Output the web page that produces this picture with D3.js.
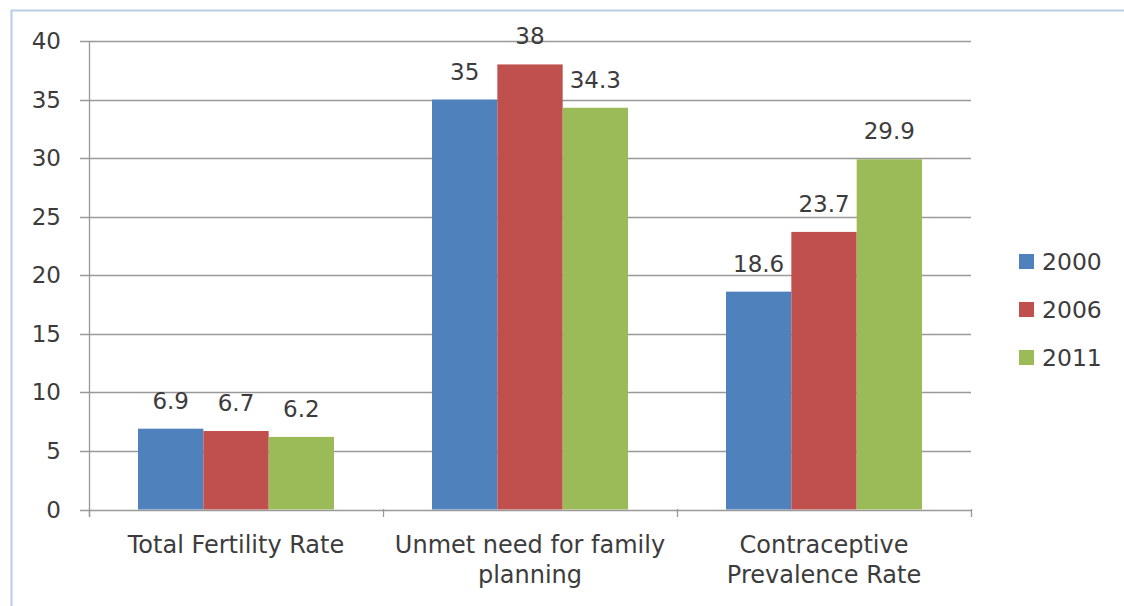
<!DOCTYPE html>
<html lang="en">
  <head>
    <meta charset="UTF-8" />
    <title>Fertility indicators</title>
    <script src="https://d3js.org/d3.v7.min.js"></script>
    <style>
      body { margin: 0; background: #fff; }
      text { font-family: "DejaVu Sans", "Liberation Sans", sans-serif; fill: #3c3c3c; }
    </style>
  </head>
  <body>
    <svg width="1124" height="606"></svg>
    <script>
      // data
      var categories = [["Total Fertility Rate"], ["Unmet need for family", "planning"], ["Contraceptive", "Prevalence Rate"]];
      var years = ["2000", "2006", "2011"];
      var values2000 = [6.9, 35, 18.6];
      var values2006 = [6.7, 38, 23.7];
      var values2011 = [6.2, 34.3, 29.9];
      var yTicks = [0, 5, 10, 15, 20, 25, 30, 35, 40];
      var colors = ["#4f81bd", "#c0504d", "#9bbb59"];

      var series = [values2000, values2006, values2011];

      var svg = d3.select("svg");

      // outer frame (only left + top edges show in the original)
      svg.append("path")
        .attr("d", "M11.5,606 V10.5 H1124")
        .attr("fill", "none")
        .attr("stroke", "#b9cde5")
        .attr("stroke-width", 2);

      var x0 = d3.scaleBand().domain(d3.range(categories.length)).range([89, 971]);
      var x1 = d3.scaleBand().domain(d3.range(years.length)).range([0, x0.bandwidth()]).paddingOuter(0.75).paddingInner(0);
      var y = d3.scaleLinear().domain([0, 40]).range([509.5, 41]);

      // gridlines
      svg.append("g").selectAll("line")
        .data(yTicks)
        .join("line")
        .attr("x1", 80).attr("x2", 971)
        .attr("y1", d => Math.round(y(d)) + 0.5).attr("y2", d => Math.round(y(d)) + 0.5)
        .attr("stroke", "#999")
        .attr("stroke-width", 1.3);

      // y labels
      svg.append("g").selectAll("text")
        .data(yTicks)
        .join("text")
        .attr("x", 61).attr("y", d => y(d))
        .attr("dy", "0.35em")
        .attr("text-anchor", "end")
        .style("font-size", "23px")
        .text(d => d);

      // y axis line
      svg.append("line")
        .attr("x1", 89.5).attr("x2", 89.5)
        .attr("y1", 41).attr("y2", 517)
        .attr("stroke", "#999").attr("stroke-width", 1.3);

      // category ticks
      svg.append("g").selectAll("line")
        .data(d3.range(categories.length + 1))
        .join("line")
        .attr("x1", d => Math.round(89 + d * x0.bandwidth()) + 0.5)
        .attr("x2", d => Math.round(89 + d * x0.bandwidth()) + 0.5)
        .attr("y1", 509).attr("y2", 517)
        .attr("stroke", "#999").attr("stroke-width", 1.3);

      // bars
      var groups = svg.append("g").selectAll("g")
        .data(categories)
        .join("g")
        .attr("transform", (d, i) => "translate(" + x0(i) + ",0)");

      groups.each(function (c, ci) {
        var g = d3.select(this);
        series.forEach(function (vals, si) {
          g.append("rect")
            .attr("x", x1(si))
            .attr("width", x1.bandwidth())
            .attr("y", y(vals[ci]))
            .attr("height", y(0) - y(vals[ci]))
            .attr("fill", colors[si]);
          g.append("text")
            .attr("x", x1(si) + x1.bandwidth() / 2)
            .attr("y", y(vals[ci]) - 20)
            .attr("text-anchor", "middle")
            .style("font-size", "23px")
            .text(vals[ci]);
        });
        g.append("text")
          .attr("x", x0.bandwidth() / 2)
          .attr("y", 553)
          .attr("text-anchor", "middle")
          .style("font-size", "24px")
          .selectAll("tspan")
          .data(c)
          .join("tspan")
          .attr("x", x0.bandwidth() / 2)
          .attr("dy", (d, i) => i ? 30 : 0)
          .text(d => d);
      });

      // legend
      var legend = svg.append("g").selectAll("g")
        .data(years)
        .join("g")
        .attr("transform", (d, i) => "translate(1019," + (262 + i * 48) + ")");
      legend.append("rect")
        .attr("x", 0).attr("y", -8)
        .attr("width", 15).attr("height", 15)
        .attr("fill", (d, i) => colors[i]);
      legend.append("text")
        .attr("x", 23).attr("y", 0)
        .attr("dy", "0.35em")
        .style("font-size", "23.5px")
        .text(d => d);
    </script>
  </body>
</html>
